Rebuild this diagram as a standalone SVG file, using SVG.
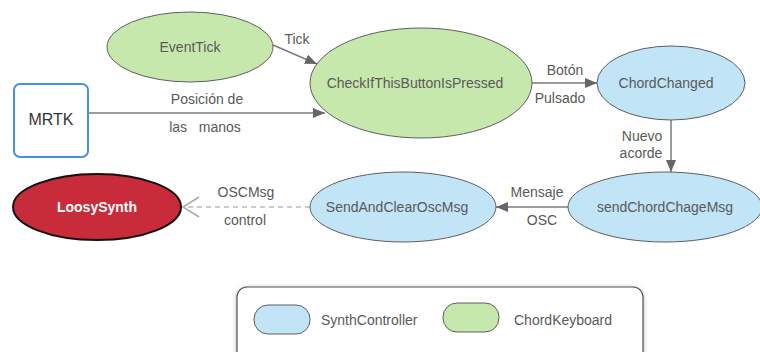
<svg xmlns="http://www.w3.org/2000/svg" width="760" height="352" viewBox="0 0 760 352">
  <style>
    text { font-family: "Liberation Sans", Arial, sans-serif; font-size: 14px; fill: #595959; }
    .node { stroke: #5e5e5e; stroke-width: 1; }
    .green { fill: #c7e8ac; }
    .blue { fill: #c1e4f7; }
    .edge { stroke: #7a7a7a; stroke-width: 1.5; fill: none; }
    .mid { text-anchor: middle; }
  </style>
  <defs>
    <marker id="arrow" viewBox="0 0 12 10" refX="12" refY="5" markerWidth="12" markerHeight="10" markerUnits="userSpaceOnUse" orient="auto">
      <path d="M0,0 L12,5 L0,10 Z" fill="#666"/>
    </marker>
    <marker id="open" viewBox="0 0 18 22" refX="17" refY="11" markerWidth="18" markerHeight="22" markerUnits="userSpaceOnUse" orient="auto">
      <path d="M1,1 L17,11 L1,21" fill="none" stroke="#aaa" stroke-width="1.5"/>
    </marker>
    <filter id="shadow" x="-5%" y="-20%" width="110%" height="140%">
      <feDropShadow dx="0" dy="1" stdDeviation="2" flood-color="#000" flood-opacity="0.3"/>
    </filter>
  </defs>

  <g id="connectors">
    <line class="edge" x1="273" y1="45" x2="317" y2="64" marker-end="url(#arrow)"/>
    <text class="mid" x="297" y="44">Tick</text>

    <line class="edge" x1="88" y1="113" x2="325" y2="113" marker-end="url(#arrow)"/>
    <text class="mid" x="207" y="104">Posición de</text>
    <text class="mid" x="205" y="132" xml:space="preserve">las   manos</text>

    <line class="edge" x1="532" y1="83" x2="597" y2="83" marker-end="url(#arrow)"/>
    <text class="mid" x="565" y="75">Botón</text>
    <text class="mid" x="560" y="103">Pulsado</text>

    <line class="edge" x1="671" y1="120" x2="671" y2="172" marker-end="url(#arrow)"/>
    <text class="mid" x="642" y="141">Nuevo</text>
    <text class="mid" x="641" y="158">acorde</text>

    <line class="edge" x1="568" y1="207" x2="496" y2="207" marker-end="url(#arrow)"/>
    <text class="mid" x="537" y="197">Mensaje</text>
    <text class="mid" x="542" y="225">OSC</text>

    <line x1="310" y1="207" x2="183" y2="207" stroke="#bbb" stroke-width="1.5" stroke-dasharray="5,4" marker-end="url(#open)"/>
    <text class="mid" x="246" y="197">OSCMsg</text>
    <text class="mid" x="245" y="225">control</text>
  </g>

  <g id="EventTick">
    <ellipse class="node green" cx="190" cy="47" rx="83" ry="35"/>
    <text class="mid" x="190" y="52">EventTick</text>
  </g>

  <g id="CheckIfThisButtonIsPressed">
    <ellipse class="node green" cx="421" cy="83" rx="111" ry="55"/>
    <text class="mid" x="415" y="88">CheckIfThisButtonIsPressed</text>
  </g>

  <g id="ChordChanged">
    <ellipse class="node blue" cx="671" cy="83" rx="74" ry="37"/>
    <text class="mid" x="666" y="88">ChordChanged</text>
  </g>

  <g id="MRTK">
    <rect x="14" y="84" width="74" height="73" rx="6" fill="#fff" stroke="#4a90e2" stroke-width="2"/>
    <text class="mid" x="51" y="125" style="font-size:16px; fill:#333">MRTK</text>
  </g>

  <g id="LoosySynth">
    <ellipse cx="97" cy="207" rx="84" ry="33" fill="#c82b3a" stroke="#111" stroke-width="2"/>
    <text class="mid" x="97" y="212" style="fill:#fff; font-weight:bold">LoosySynth</text>
  </g>

  <g id="SendAndClearOscMsg">
    <ellipse class="node blue" cx="403" cy="207" rx="93" ry="35"/>
    <text class="mid" x="397" y="212">SendAndClearOscMsg</text>
  </g>

  <g id="sendChordChageMsg">
    <ellipse class="node blue" cx="665" cy="207" rx="97" ry="35"/>
    <text class="mid" x="665" y="212">sendChordChageMsg</text>
  </g>

  <g id="legend">
    <rect x="237" y="287" width="406" height="80" rx="10" fill="#fff" stroke="#555" stroke-width="1.2" filter="url(#shadow)"/>
    <rect class="node blue" x="254" y="305" width="56" height="29" rx="14"/>
    <text x="321" y="325">SynthController</text>
    <rect class="node green" x="443" y="303" width="56" height="29" rx="14"/>
    <text x="514" y="325">ChordKeyboard</text>
  </g>
</svg>
